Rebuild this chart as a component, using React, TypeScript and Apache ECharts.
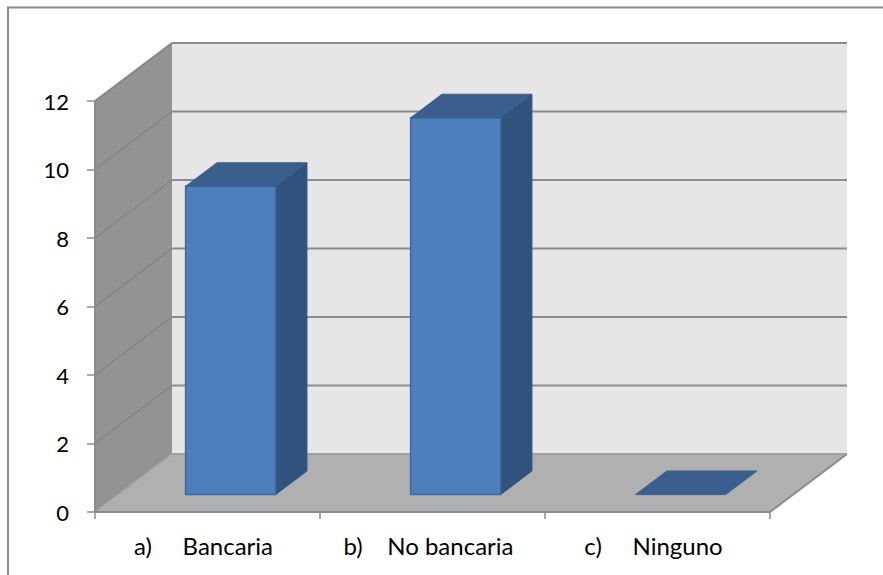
import React, { useEffect, useRef } from "react";
import * as echarts from "echarts";

const categories = ["a)     Bancaria", "b)    No bancaria", "c)     Ninguno"];
const values = [9, 11, 0];
const yTicks = [0, 2, 4, 6, 8, 10, 12];

const DEPTH_X = 77;
const DEPTH_Y = 58;
const BAR_RATIO = 0.4;
const BAR_NEAR = 0.3;
const BAR_FAR = 0.707;
const FONT = "Lato, Carlito, 'Noto Sans', sans-serif";
const AXIS_GREY = "#8c8c8c";

// Side wall, back wall and floor of the box behind the bars.
function renderWalls(params: any) {
  const { x, y, width: w, height: h } = params.coordSys;
  const poly = (points: number[][], fill: string) => ({
    type: "polygon",
    shape: { points },
    style: { fill, stroke: "none" },
  });
  return {
    type: "group",
    children: [
      poly(
        [
          [x + DEPTH_X, y - DEPTH_Y],
          [x + w + DEPTH_X, y - DEPTH_Y],
          [x + w + DEPTH_X, y + h - DEPTH_Y],
          [x + DEPTH_X, y + h - DEPTH_Y],
        ],
        "#e6e6e6"
      ),
      poly(
        [
          [x, y],
          [x + DEPTH_X, y - DEPTH_Y],
          [x + DEPTH_X, y + h - DEPTH_Y],
          [x, y + h],
        ],
        "#939393"
      ),
      poly(
        [
          [x, y + h],
          [x + DEPTH_X, y + h - DEPTH_Y],
          [x + w + DEPTH_X, y + h - DEPTH_Y],
          [x + w, y + h],
        ],
        "#b0b0b0"
      ),
      {
        type: "line",
        shape: { x1: x + w, y1: y + h, x2: x + w + DEPTH_X, y2: y + h - DEPTH_Y },
        style: { stroke: AXIS_GREY, lineWidth: 2 },
      },
      {
        type: "line",
        shape: { x1: x, y1: y, x2: x, y2: y + h },
        style: { stroke: AXIS_GREY, lineWidth: 2 },
      },
    ],
  };
}

// One gridline per tick: slanted across the side wall, level across the back wall.
function renderGridline(params: any, api: any) {
  const { x, width: w } = params.coordSys;
  const v = api.value(1);
  const py = api.coord([0, v])[1];
  return {
    type: "group",
    children: [
      {
        type: "line",
        shape: { x1: x, y1: py, x2: x + DEPTH_X, y2: py - DEPTH_Y },
        style: { stroke: v === 0 ? "#a6a6a6" : "#868686", lineWidth: v === 12 ? 2 : 1.5 },
      },
      {
        type: "line",
        shape: { x1: x + DEPTH_X, y1: py - DEPTH_Y, x2: x + w + DEPTH_X, y2: py - DEPTH_Y },
        style: { stroke: v === 0 ? "#a0a0a0" : AXIS_GREY, lineWidth: 2 },
      },
    ],
  };
}

// A box-shaped bar: front face, side face and lid.
function renderBar(_params: any, api: any) {
  const v = api.value(1);
  const [cx, topY] = api.coord([api.value(0), v]);
  const baseY = api.coord([api.value(0), 0])[1];
  const half = (api.size([1, 0])[0] * BAR_RATIO) / 2;
  const nx = DEPTH_X * BAR_NEAR;
  const ny = DEPTH_Y * BAR_NEAR;
  const fx = DEPTH_X * BAR_FAR;
  const fy = DEPTH_Y * BAR_FAR;
  const l = cx + nx - half;
  const r = cx + nx + half;
  const bl = cx + fx - half;
  const br = cx + fx + half;
  const top = topY - ny;
  const base = baseY - ny;
  const topBack = topY - fy;
  const baseBack = baseY - fy;
  const children: any[] = [];
  if (v > 0) {
    children.push(
      {
        type: "polygon",
        shape: { points: [[r, top], [br, topBack], [br, baseBack], [r, base]] },
        style: { fill: "#31527c", stroke: "#31527c", lineWidth: 1 },
      },
      {
        type: "polygon",
        shape: { points: [[l, top], [r, top], [r, base], [l, base]] },
        style: { fill: "#4d7fbc", stroke: "#3a6a9f", lineWidth: 1.5 },
      }
    );
  }
  children.push({
    type: "polygon",
    shape: { points: [[l, top], [bl, topBack], [br, topBack], [r, top]] },
    style: { fill: "#3a5f8e", stroke: "#3a5f8e", lineWidth: 1 },
  });
  return { type: "group", children };
}

export default function App() {
  const ref = useRef<HTMLDivElement>(null);

  useEffect(() => {
    document.body.style.margin = "0";
    const chart = echarts.init(ref.current!, undefined, { renderer: "svg" });
    chart.setOption({
      animation: false,
      backgroundColor: "#ffffff",
      grid: { left: 95, top: 101, width: 675, height: 411, containLabel: false },
      graphic: [
        {
          type: "polyline",
          silent: true,
          shape: { points: [[8, 575], [8, 7.5], [883, 7.5]] },
          style: { fill: "none", stroke: "#8c8c8c", lineWidth: 2 },
        },
      ],
      xAxis: {
        type: "category",
        data: categories,
        z: 5,
        axisLine: { show: true, lineStyle: { color: AXIS_GREY, width: 2 } },
        axisTick: { show: true, length: 7, lineStyle: { color: AXIS_GREY, width: 1.5 } },
        axisLabel: {
          color: "#000000",
          fontFamily: FONT,
          fontSize: 24,
          margin: 21,
          interval: 0,
          padding: [0, 8, 0, 0],
        },
        splitLine: { show: false },
      },
      yAxis: {
        type: "value",
        min: 0,
        max: 12,
        interval: 2,
        z: 5,
        axisLine: { show: false },
        axisTick: { show: true, length: 8, lineStyle: { color: AXIS_GREY, width: 1.5 } },
        axisLabel: { color: "#000000", fontFamily: FONT, fontSize: 22, margin: 26 },
        splitLine: { show: false },
      },
      series: [
        {
          type: "custom",
          name: "walls",
          z: 1,
          silent: true,
          renderItem: renderWalls,
          data: [[0, 0]],
        },
        {
          type: "custom",
          name: "gridlines",
          z: 2,
          silent: true,
          renderItem: renderGridline,
          data: yTicks.map((t) => [0, t]),
        },
        {
          type: "custom",
          name: "bars",
          z: 3,
          silent: true,
          renderItem: renderBar,
          data: values.map((v, i) => [i, v]),
        },
      ],
    });
    return () => chart.dispose();
  }, []);

  return <div ref={ref} style={{ position: "fixed", left: 0, top: 0, width: 883, height: 575 }} />;
}
